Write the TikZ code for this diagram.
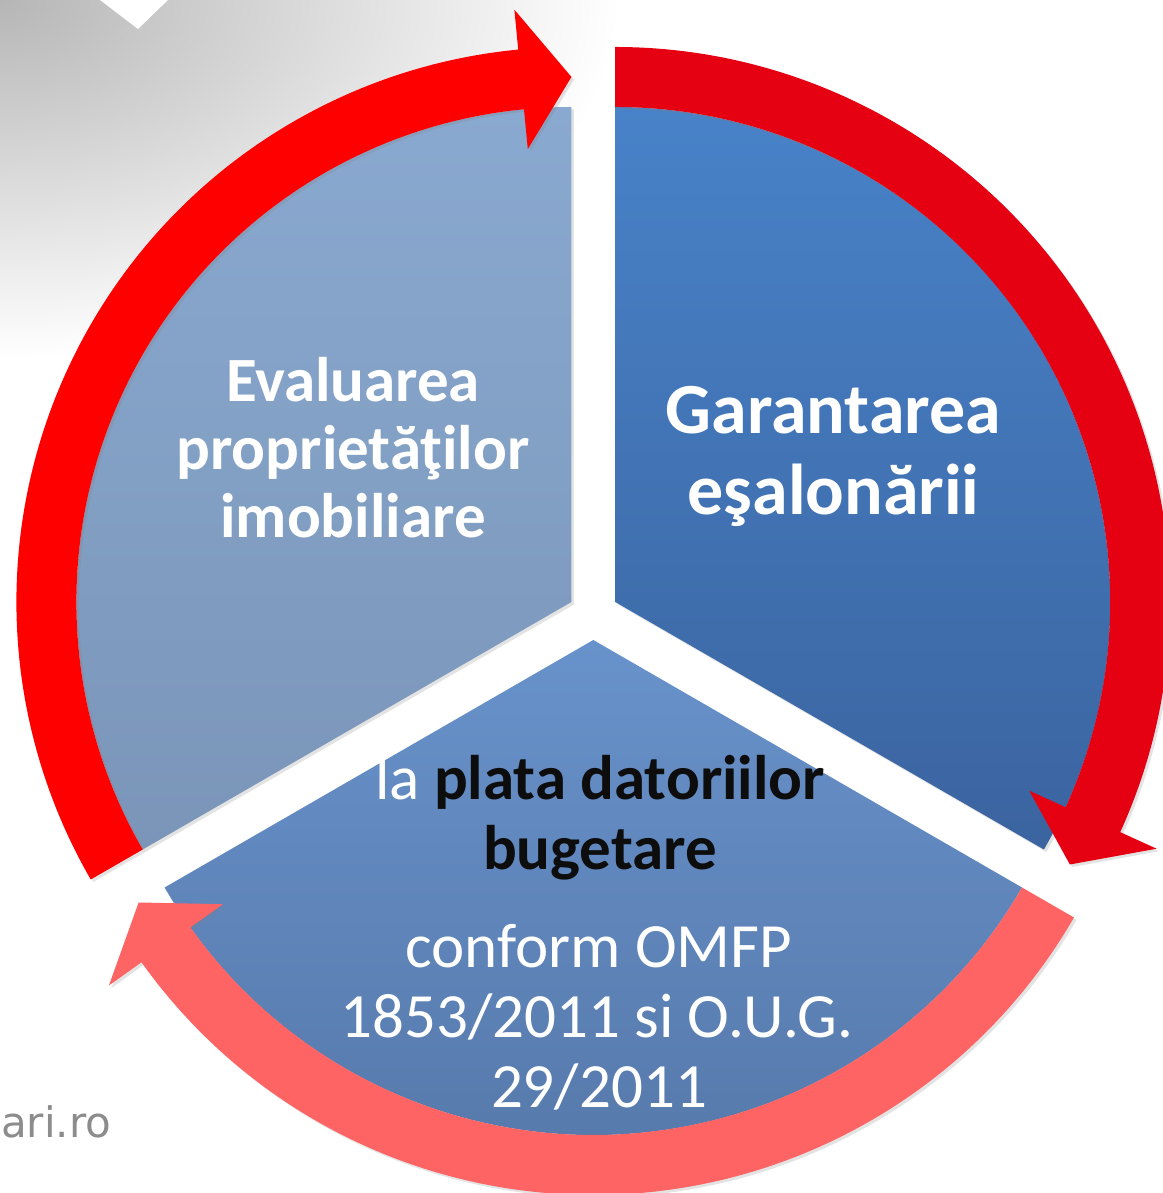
\documentclass[tikz,border=0pt]{standalone}
\usepackage{fontspec}
\setmainfont{Carlito}
\newfontfamily\webfont{DejaVu Sans}
\usetikzlibrary{calc,shadows}
\definecolor{slLtop}{HTML}{8AA9D0}
\definecolor{slLbot}{HTML}{7A95B8}
\definecolor{slRtop}{HTML}{4882C8}
\definecolor{slRbot}{HTML}{3B64A0}
\definecolor{slBtop}{HTML}{6892CB}
\definecolor{slBbot}{HTML}{5577A8}
\definecolor{arrL}{HTML}{FF0000}
\definecolor{arrR}{HTML}{E50012}
\definecolor{arrB}{HTML}{FF6464}
\definecolor{webgray}{HTML}{8C8C8C}
\definecolor{bgcorner}{HTML}{B6B6B6}
\newcommand{\cycarrow}[5]{%
  \fill[shd, #5] ($(#1)+(#2:555)$) arc[start angle=#2, end angle=#3, radius=555]
    -- ($(#1)+(#3:595)$) -- ($(#1)+(#4:525)$) -- ($(#1)+(#3:455)$)
    -- ($(#1)+(#3:495)$) arc[start angle=#3, end angle=#2, radius=495] -- cycle;}
\begin{document}
\begin{tikzpicture}[x=1pt,y=1pt,
  shd/.style={drop shadow={opacity=0.22, shadow xshift=2.5pt, shadow yshift=-2.5pt}},
  leftlbl/.style={anchor=base, inner sep=0pt, text=white, font=\bfseries\fontsize{63}{68}\selectfont},
  rightlbl/.style={anchor=base, inner sep=0pt, text=white, font=\bfseries\fontsize{72}{81}\selectfont},
  botlbl/.style={anchor=base, inner sep=0pt, text=white, font=\fontsize{63}{70}\selectfont},
  darkbold/.style={anchor=base, inner sep=0pt, text=black!95, font=\bfseries\fontsize{63}{70}\selectfont}]
\useasboundingbox (0,0) rectangle (1162,1193);
% background
\fill[white] (0,0) rectangle (1162,1193);
\begin{scope}
  \clip (0,0) rectangle (1162,1193);
  \shade[inner color=bgcorner, outer color=white] (0,1193) ellipse [x radius=620, y radius=360];
\end{scope}
\fill[white] (100,1193) -- (168,1193) -- (138,1164) -- cycle;
\node[anchor=base west, inner sep=0pt, text=webgray, font=\webfont\fontsize{42}{50}\selectfont] (web) at (1,55) {ari.ro};
% centres of the three slices
\coordinate (PL) at (571.4,591);
\coordinate (PR) at (615.2,591);
\coordinate (PB) at (593.3,553);
% slices
\shade[shd, top color=slLtop, bottom color=slLbot] (PL) -- ++(90:495) arc[start angle=90, end angle=210, radius=495] -- cycle;
\shade[shd, top color=slRtop, bottom color=slRbot] (PR) -- ++(-30:495) arc[start angle=-30, end angle=90, radius=495] -- cycle;
\shade[shd, top color=slBtop, bottom color=slBbot] (PB) -- ++(210:495) arc[start angle=210, end angle=330, radius=495] -- cycle;
% circular arrows
\cycarrow{PL}{210}{95.5}{90}{arrL}
\cycarrow{PR}{90}{-24.5}{-30}{arrR}
\cycarrow{PB}{-30}{-144.5}{-150}{arrB}
% texts
\node[leftlbl] (l1) at (353,791) {Evaluarea};
\node[leftlbl] (l2) at (353,723) {proprietăţilor};
\node[leftlbl] (l3) at (353,655) {imobiliare};
\node[rightlbl] (r1) at (833.5,759) {Garantarea};
\node[rightlbl] (r2) at (833.5,678) {eşalonării};
\node[botlbl] (b1) at (600,393) {la \textcolor{black!95}{\bfseries plata datoriilor}};
\node[darkbold] (b2) at (600,323) {bugetare};
\node[botlbl] (b3) at (599,225) {conform OMFP};
\node[botlbl] (b4) at (597,155) {1853/2011 si O.U.G.};
\node[botlbl] (b5) at (599,85) {29/2011};
\end{tikzpicture}
\end{document}
